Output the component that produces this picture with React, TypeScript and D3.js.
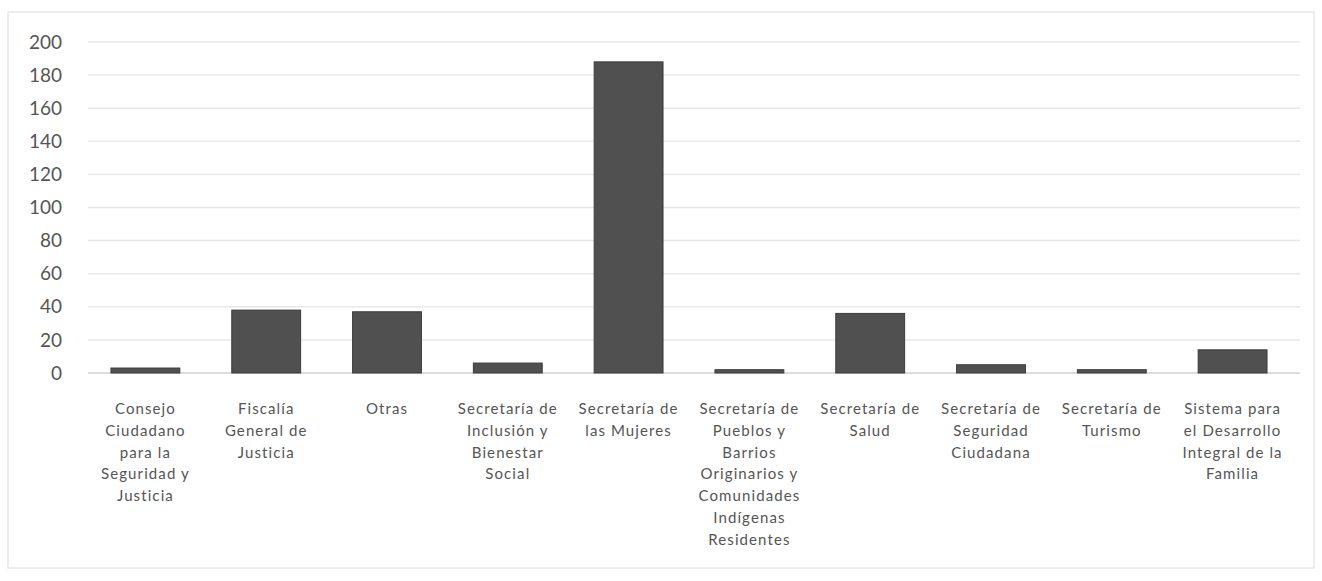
import React from "react";
import * as d3 from "d3";

const categories = [
  "Consejo Ciudadano para la Seguridad y Justicia",
  "Fiscalía General de Justicia",
  "Otras",
  "Secretaría de Inclusión y Bienestar Social",
  "Secretaría de las Mujeres",
  "Secretaría de Pueblos y Barrios Originarios y Comunidades Indígenas Residentes",
  "Secretaría de Salud",
  "Secretaría de Seguridad Ciudadana",
  "Secretaría de Turismo",
  "Sistema para el Desarrollo Integral de la Familia",
];

const categoryLines = [
  ["Consejo", "Ciudadano", "para la", "Seguridad y", "Justicia"],
  ["Fiscalía", "General de", "Justicia"],
  ["Otras"],
  ["Secretaría de", "Inclusión y", "Bienestar", "Social"],
  ["Secretaría de", "las Mujeres"],
  ["Secretaría de", "Pueblos y", "Barrios", "Originarios y", "Comunidades", "Indígenas", "Residentes"],
  ["Secretaría de", "Salud"],
  ["Secretaría de", "Seguridad", "Ciudadana"],
  ["Secretaría de", "Turismo"],
  ["Sistema para", "el Desarrollo", "Integral de la", "Familia"],
];

const values = [3, 38, 37, 6, 188, 2, 36, 5, 2, 14];

const yTicks = [0, 20, 40, 60, 80, 100, 120, 140, 160, 180, 200];

const W = 1322;
const H = 581;

export default function App() {
  const x = d3
    .scaleBand<string>()
    .domain(categories)
    .range([85, 1293])
    .paddingInner(0.43)
    .paddingOuter(0.215);
  const y = d3.scaleLinear().domain([0, 200]).range([373, 42]);

  const font = "Lato, 'Open Sans', sans-serif";
  const textColor = "#555555";

  return (
    <svg
      width={W}
      height={H}
      style={{ position: "absolute", left: 0, top: 0, display: "block", background: "#fff" }}
    >
      <rect x={8} y={12} width={1306} height={556} fill="none" stroke="#e8e8e8" strokeWidth={1.5} />
      {yTicks.map((t) => (
        <g key={t}>
          <line x1={88} x2={1300} y1={y(t)} y2={y(t)} stroke={t === 0 ? "#d0d0d0" : "#e8e8e8"} strokeWidth={1.5} />
          <text
            x={62}
            y={y(t)}
            dy="0.35em"
            textAnchor="end"
            fontFamily={font}
            fontSize={19}
            fill={textColor}
          >
            {t}
          </text>
        </g>
      ))}
      {categories.map((c, i) => (
        <rect
          key={c}
          x={x(c)}
          y={y(values[i])}
          width={x.bandwidth()}
          height={y(0) - y(values[i])}
          fill="#505050"
          stroke="#3c3c3c"
          strokeWidth={1}
        />
      ))}
      {categories.map((c, i) => (
        <text
          key={c}
          x={(x(c) ?? 0) + x.bandwidth() / 2}
          y={414}
          textAnchor="middle"
          fontFamily={font}
          fontSize={15}
          letterSpacing={1.1}
          fill={textColor}
        >
          {categoryLines[i].map((ln, j) => (
            <tspan key={j} x={(x(c) ?? 0) + x.bandwidth() / 2} dy={j === 0 ? 0 : 21.8}>
              {ln}
            </tspan>
          ))}
        </text>
      ))}
    </svg>
  );
}
